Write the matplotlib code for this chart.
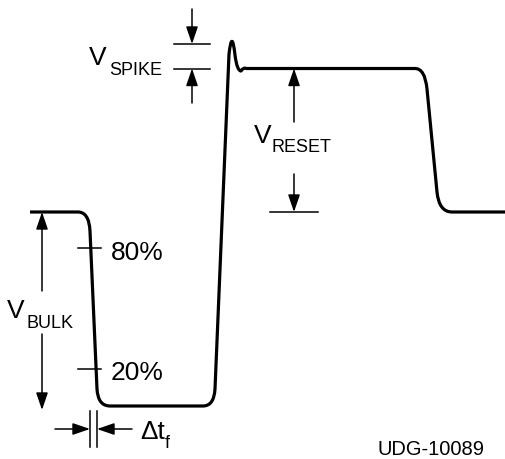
import matplotlib
matplotlib.use("Agg")
import matplotlib.pyplot as plt
from matplotlib.path import Path
from matplotlib.patches import PathPatch
from matplotlib.patches import ArrowStyle

plt.rcParams['font.family'] = ['Liberation Sans', 'DejaVu Sans']

# Waveform vertices (time, level); corners are quadratic Bezier controls
wave_x = [30, 78, 89, 90, 97, 98, 110, 203, 214, 215, 229, 232, 235, 237, 241, 243.5, 246, 415, 425, 427, 437, 439, 452, 506]
wave_y = [213, 213, 213, 232, 390, 407, 407, 407, 407, 390, 55, 29, 56, 72, 72, 68, 69.5, 69.5, 69.5, 90, 193, 213, 213, 213]
wave_codes = ['M', 'L', 'C', 'C', 'L', 'C', 'C', 'L', 'C', 'C', 'L', 'C', 'C', 'C', 'C', 'C', 'C', 'L', 'C', 'C', 'L', 'C', 'C', 'L']

# Levels
top_level = 69.5
spike_level = 45
bulk_level = 213
low_level = 407
pct80_level = 249
pct20_level = 370
tf_x0, tf_x1 = 90, 97

fig = plt.figure(figsize=(5.06, 4.60), dpi=100)
ax = fig.add_axes([0, 0, 1, 1])
ax.set_xlim(0, 506)
ax.set_ylim(460, 0)
ax.axis('off')

cmap = {'M': Path.MOVETO, 'L': Path.LINETO, 'C': Path.CURVE3}
path = Path(list(zip(wave_x, wave_y)), [cmap[c] for c in wave_codes])
ax.add_patch(PathPatch(path, fill=False, lw=2.3, ec='black', capstyle='butt', joinstyle='round'))

lw = 1.1
style = ArrowStyle('-|>', head_length=1.05, head_width=0.36)

def arrow(x0, y0, x1, y1):
    ax.annotate('', xy=(x1, y1), xytext=(x0, y0),
                arrowprops=dict(arrowstyle=style, mutation_scale=10, lw=lw, color='black',
                                shrinkA=0, shrinkB=0))

# V_SPIKE
ax.plot([174, 210], [spike_level, spike_level], color='black', lw=lw)
ax.plot([174, 210], [top_level, top_level], color='black', lw=lw)
arrow(192, 10, 192, spike_level)
arrow(192, 104, 192, top_level)

# V_RESET
ax.plot([270, 318], [bulk_level, bulk_level], color='black', lw=lw)
arrow(294, 123, 294, top_level)
arrow(294, 175, 294, bulk_level)

# V_BULK
arrow(42, 292, 42, bulk_level)
arrow(42, 335, 42, 411)

# 80% / 20% ticks
ax.plot([78, 101], [pct80_level, pct80_level], color='black', lw=lw)
ax.plot([78, 101], [pct20_level, pct20_level], color='black', lw=lw)

# delta t_f
ax.plot([tf_x0, tf_x0], [412, 448], color='black', lw=lw)
ax.plot([tf_x1, tf_x1], [412, 448], color='black', lw=lw)
arrow(55, 430, tf_x0, 430)
arrow(132, 430, tf_x1, 430)

big = 19
small = 13

def label(x, y, main, sub, subx, suby):
    ax.text(x, y, main, fontsize=big, ha='left', va='baseline')
    ax.text(subx, suby, sub, fontsize=small, ha='left', va='baseline')

label(89, 65, 'V', 'SPIKE', 109, 75)
label(254, 143, 'V', 'RESET', 272, 152)
label(7, 318, 'V', 'BULK', 27, 328)
ax.text(111, 260, '80%', fontsize=big, ha='left', va='baseline')
ax.text(111, 380, '20%', fontsize=big, ha='left', va='baseline')
label(140, 439, 'Δt', 'f', 165, 448)
ax.text(378, 455, 'UDG-10089', fontsize=14.5, ha='left', va='baseline')

fig.savefig('out.png', dpi=100)
